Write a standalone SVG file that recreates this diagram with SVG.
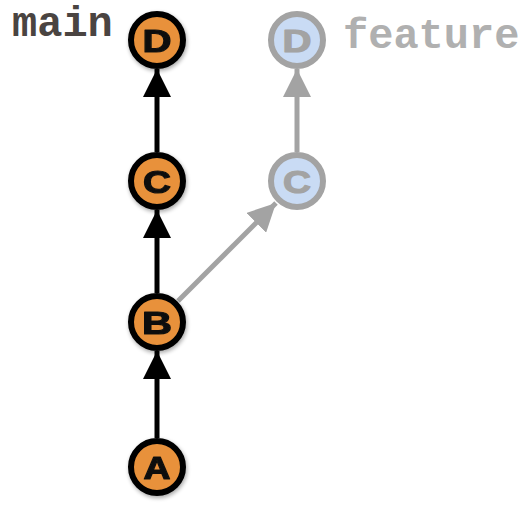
<svg xmlns="http://www.w3.org/2000/svg" width="523" height="505" viewBox="0 0 523 505">
<style>
.n circle{stroke-width:6}
.m circle{fill:#e8913a;stroke:#000}
.f circle{fill:#c9dbf4;stroke:#a3a3a3}
.n text{font-family:"Liberation Sans",Arial,sans-serif;font-weight:bold;font-size:32px;text-anchor:middle;stroke-width:1.2;stroke-linejoin:round}
.m text{fill:#111;stroke:#111}
.f text{fill:#a3a3a3;stroke:#a3a3a3}
.lbl{font-family:"Liberation Mono","Courier New",monospace;font-weight:bold;font-size:42px}
.e{stroke-width:5;fill:none}
.k{stroke:#000}
.g{stroke:#a3a3a3}
</style>
<defs>
<filter id="sh" x="-30%" y="-30%" width="160%" height="160%">
<feGaussianBlur in="SourceAlpha" stdDeviation="2"/>
<feOffset dx="1" dy="2" result="b"/>
<feComponentTransfer><feFuncA type="linear" slope="0.35"/></feComponentTransfer>
<feMerge><feMergeNode/><feMergeNode in="SourceGraphic"/></feMerge>
</filter>
<marker id="ak" viewBox="0 0 10 10" refX="10" refY="5" markerWidth="5.6" markerHeight="5.6" markerUnits="strokeWidth" orient="auto"><path d="M0,0L10,5L0,10z" fill="#000"/></marker>
<marker id="ag" viewBox="0 0 10 10" refX="10" refY="5" markerWidth="5.6" markerHeight="5.6" markerUnits="strokeWidth" orient="auto"><path d="M0,0L10,5L0,10z" fill="#a3a3a3"/></marker>
</defs>
<g id="connectors">
<line class="e k" x1="157" y1="438" x2="157" y2="351" marker-end="url(#ak)"/>
<line class="e k" x1="157" y1="293" x2="157" y2="210" marker-end="url(#ak)"/>
<line class="e k" x1="157" y1="152" x2="157" y2="69" marker-end="url(#ak)"/>
<line class="e g" x1="178" y1="301" x2="276" y2="203" marker-end="url(#ag)"/>
<line class="e g" x1="297" y1="152" x2="297" y2="69" marker-end="url(#ag)"/>
</g>
<g id="nA" class="n m" filter="url(#sh)"><circle cx="157" cy="467" r="26"/><text x="157" y="479" textLength="27" lengthAdjust="spacingAndGlyphs">A</text></g>
<g id="nB" class="n m" filter="url(#sh)"><circle cx="157" cy="322" r="26"/><text x="157" y="334" textLength="30" lengthAdjust="spacingAndGlyphs">B</text></g>
<g id="nC" class="n m" filter="url(#sh)"><circle cx="157" cy="181" r="26"/><text x="157" y="193" textLength="28" lengthAdjust="spacingAndGlyphs">C</text></g>
<g id="nD" class="n m" filter="url(#sh)"><circle cx="157" cy="40" r="26"/><text x="157" y="52" textLength="29" lengthAdjust="spacingAndGlyphs">D</text></g>
<g id="fC" class="n f"><circle cx="297" cy="181" r="26"/><text x="297" y="193" textLength="28" lengthAdjust="spacingAndGlyphs">C</text></g>
<g id="fD" class="n f"><circle cx="297" cy="40" r="26"/><text x="297" y="52" textLength="29" lengthAdjust="spacingAndGlyphs">D</text></g>
<text class="lbl" x="12" y="36" fill="#4a4441">main</text>
<text class="lbl" x="343" y="48" fill="#b0b0b0">feature</text>
</svg>
